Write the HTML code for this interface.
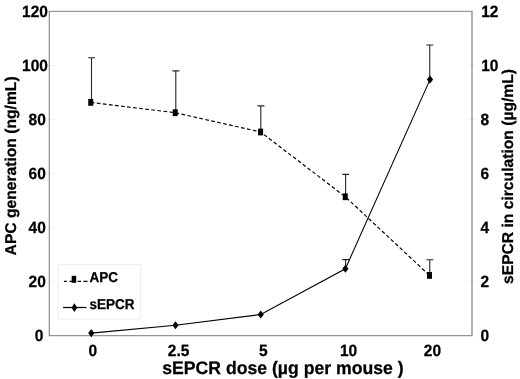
<!DOCTYPE html>
<html><head><meta charset="utf-8"><title>chart</title>
<style>
html,body{margin:0;padding:0;background:#fff;}
svg{display:block;}
text{font-family:"Liberation Sans",sans-serif;font-weight:bold;fill:#000;text-rendering:geometricPrecision;stroke:#000;stroke-width:0.25px;}
.t{font-size:15.5px;}
.xt{font-size:17.64px;}
.yt{font-size:15.65px;}
.lg{font-size:13.5px;}
</style></head><body>
<svg width="520" height="379" viewBox="0 0 520 379">
<rect width="520" height="379" fill="#fff"/>
<path d="M48.5 281.42H55.0M468.0 281.42H476.0M48.5 227.43H55.0M468.0 227.43H476.0M48.5 173.45H55.0M468.0 173.45H476.0M48.5 119.47H55.0M468.0 119.47H476.0M48.5 65.48H55.0M468.0 65.48H476.0" fill="none" stroke="#f1f1f1" stroke-width="1"/>
<path d="M49.25 335.7V11.3" fill="none" stroke="#737373" stroke-width="1"/>
<path d="M48.75 11.3H472.5" fill="none" stroke="#808080" stroke-width="1"/>
<path d="M472.0 11.3V335.7" fill="none" stroke="#666" stroke-width="1"/>
<path d="M48.75 335.7H472.5" fill="none" stroke="#7c7c7c" stroke-width="1"/>
<path d="M91.50 57.80V102.40M88.10 57.80H95.10" stroke="#262626" stroke-width="1.1" fill="none"/>
<path d="M175.80 70.90V112.70M172.40 70.90H179.40" stroke="#262626" stroke-width="1.1" fill="none"/>
<path d="M260.80 105.90V132.00M257.40 105.90H264.40" stroke="#262626" stroke-width="1.1" fill="none"/>
<path d="M345.60 174.40V196.75M342.20 174.40H349.20" stroke="#262626" stroke-width="1.1" fill="none"/>
<path d="M429.75 259.75V275.40M426.35 259.75H433.35" stroke="#262626" stroke-width="1.1" fill="none"/>
<path d="M345.60 259.60V268.75M342.20 259.60H349.20" stroke="#262626" stroke-width="1.1" fill="none"/>
<path d="M429.75 45.00V79.60M426.35 45.00H433.35" stroke="#262626" stroke-width="1.1" fill="none"/>
<polyline points="90.75,102.40 175.25,112.70 260.60,132.00 345.25,196.75 429.50,275.40" fill="none" stroke="#000" stroke-width="1.18" stroke-dasharray="3.7 2.4"/>
<polyline points="91.25,333.10 175.50,325.25 260.75,314.50 345.40,268.75 430.00,79.60" fill="none" stroke="#000" stroke-width="1.08"/>
<rect x="88.25" y="99.00" width="5" height="6.8" fill="#000"/>
<rect x="172.75" y="109.30" width="5" height="6.8" fill="#000"/>
<rect x="258.10" y="128.60" width="5" height="6.8" fill="#000"/>
<rect x="342.75" y="193.35" width="5" height="6.8" fill="#000"/>
<rect x="427.00" y="272.00" width="5" height="6.8" fill="#000"/>
<path d="M91.25 329.00L94.35 333.10L91.25 337.20L88.15 333.10Z" fill="#000"/>
<path d="M175.50 321.15L178.60 325.25L175.50 329.35L172.40 325.25Z" fill="#000"/>
<path d="M260.75 310.40L263.85 314.50L260.75 318.60L257.65 314.50Z" fill="#000"/>
<path d="M345.40 264.65L348.50 268.75L345.40 272.85L342.30 268.75Z" fill="#000"/>
<path d="M430.00 75.50L433.10 79.60L430.00 83.70L426.90 79.60Z" fill="#000"/>
<text transform="translate(43.3 340.6) scale(1 1.05)" class="t" text-anchor="end">0</text>
<text transform="translate(480.6 340.9) scale(1 1.05)" class="t">0</text>
<text transform="translate(45.8 286.62) scale(1 1.05)" class="t" text-anchor="end">20</text>
<text transform="translate(480.6 286.92) scale(1 1.05)" class="t">2</text>
<text transform="translate(45.8 232.63) scale(1 1.05)" class="t" text-anchor="end">40</text>
<text transform="translate(480.6 232.93) scale(1 1.05)" class="t">4</text>
<text transform="translate(45.8 178.65) scale(1 1.05)" class="t" text-anchor="end">60</text>
<text transform="translate(480.6 178.95) scale(1 1.05)" class="t">6</text>
<text transform="translate(45.8 124.67) scale(1 1.05)" class="t" text-anchor="end">80</text>
<text transform="translate(480.6 124.97) scale(1 1.05)" class="t">8</text>
<text transform="translate(47.9 70.68) scale(1 1.05)" class="t" text-anchor="end">100</text>
<text transform="translate(481.2 70.98) scale(1 1.05)" class="t">10</text>
<text transform="translate(47.9 16.7) scale(1 1.05)" class="t" text-anchor="end">120</text>
<text transform="translate(481.2 17.0) scale(1 1.05)" class="t">12</text>
<text transform="translate(92.9 355.6) scale(1 1.05)" class="t" text-anchor="middle">0</text>
<text transform="translate(178.6 355.6) scale(1 1.05)" class="t" text-anchor="middle">2.5</text>
<text transform="translate(263.4 355.6) scale(1 1.05)" class="t" text-anchor="middle">5</text>
<text transform="translate(348.5 355.6) scale(1 1.05)" class="t" text-anchor="middle">10</text>
<text transform="translate(432.4 355.6) scale(1 1.05)" class="t" text-anchor="middle">20</text>
<text transform="translate(162.3 373.6) scale(1 1.025)" class="xt">sEPCR dose (µg per mouse )</text>
<text transform="translate(16.2 255.4) rotate(-90) scale(1 1.0)" class="yt">APC generation (ng/mL)</text>
<text transform="translate(513.2 284.0) rotate(-90) scale(1 1.0)" class="yt">sEPCR in circulation (µg/mL)</text>
<rect x="58.3" y="264.4" width="82.3" height="54.8" fill="#fff" stroke="#eeeeee" stroke-width="1"/>
<path d="M63.9 281.3H66.9M69.6 281.3H72M77.7 281.3H81M83.5 281.3H87.5" stroke="#000" stroke-width="1.25" fill="none"/>
<rect x="71.7" y="275.8" width="4.5" height="7" fill="#000"/>
<path d="M63.1 307.5H86.5" stroke="#000" stroke-width="1.25" fill="none"/>
<path d="M74.40 303.30L77.30 307.70L74.40 312.10L71.50 307.70Z" fill="#000"/>
<text transform="translate(89.6 282.2) scale(1 1.05)" class="lg">APC</text>
<text transform="translate(89.4 309.3) scale(1 1.05)" class="lg">sEPCR</text>
</svg>
</body></html>
